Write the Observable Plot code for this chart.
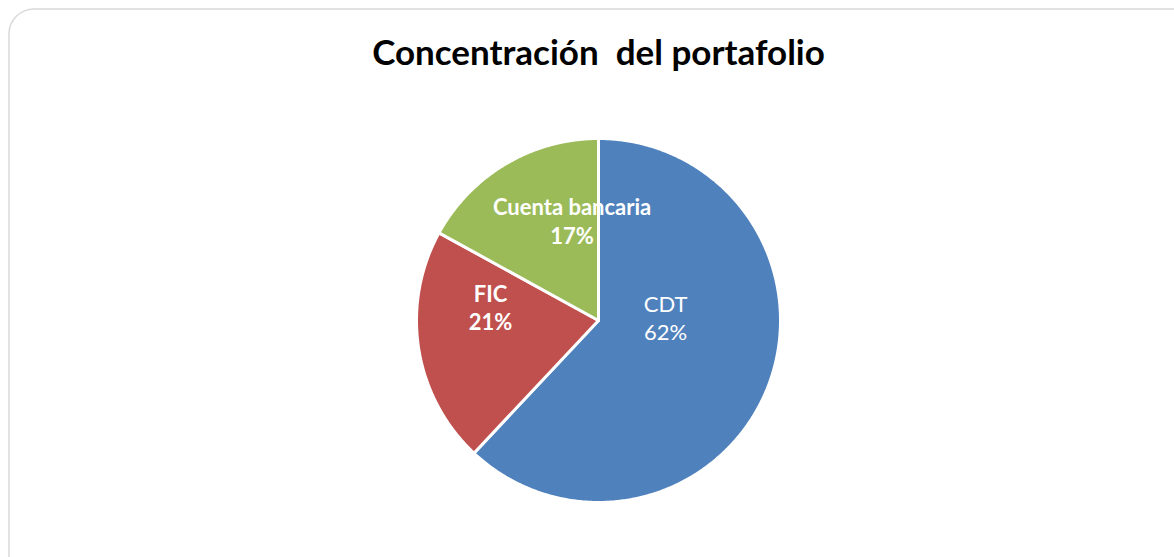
<!DOCTYPE html>
<html>
<head>
<meta charset="utf-8">
<script src="https://cdn.jsdelivr.net/npm/d3@7"></script>
<script src="https://cdn.jsdelivr.net/npm/@observablehq/plot@0.6"></script>
<style>
  html, body { margin: 0; padding: 0; background: #fff; }
  #chart svg { display: block; }
</style>
</head>
<body>
<div id="chart"></div>
<script>
// ---- data ----
const categories = ["CDT", "FIC", "Cuenta bancaria"];
const shares = [62, 21, 17];
const colors = ["#4F81BD", "#C0504D", "#9BBB59"];
const labelBold = [false, true, true];
const title = "Concentración  del portafolio";

// ---- layout ----
const W = 1174, H = 557;
const cx = 598, cy = 320, R = 182;
// label placement: [angle in degrees clockwise from top, distance in radius units]
const labelLayout = [[87.0, 0.369], [277.1, 0.598], [345.2, 0.569]];

const pie = d3.pie().sort(null).value(d => d)(shares);

const polys = [];
pie.forEach((p, i) => {
  const name = categories[i];
  polys.push({name, x: cx, y: cy});
  const n = Math.max(2, Math.ceil((p.endAngle - p.startAngle) / (Math.PI / 360)));
  for (let k = 0; k <= n; k++) {
    const a = p.startAngle + (p.endAngle - p.startAngle) * k / n;
    polys.push({name, x: cx + R * Math.sin(a), y: cy - R * Math.cos(a)});
  }
});

const labels = categories.map((c, i) => {
  const [deg, f] = labelLayout[i];
  const a = deg * Math.PI / 180;
  return {
    text: `${c}\n${shares[i]}%`,
    bold: labelBold[i],
    x: cx + f * R * Math.sin(a),
    y: cy - f * R * Math.cos(a)
  };
});

const chart = Plot.plot({
  width: W,
  height: H,
  margin: 0,
  x: {type: "identity", axis: null},
  y: {type: "identity", axis: null},
  color: {domain: categories, range: colors},
  marks: [
    Plot.frame({
      stroke: "#d9d9d9", strokeWidth: 1.5, rx: 25,
      insetLeft: 8.5, insetTop: 8.5, insetRight: -30, insetBottom: -30
    }),
    Plot.line(polys, {
      x: "x", y: "y", z: "name", fill: "name",
      stroke: "white", strokeWidth: 3, strokeLinejoin: "round",
      curve: "linear-closed"
    }),
    Plot.text([title], {
      frameAnchor: "top", dx: 11, dy: 40, text: d => d,
      fontFamily: "Lato", fontWeight: "bold", fontSize: 35, fill: "#000"
    }),
    Plot.text(labels.filter(d => d.bold), {
      x: "x", y: "y", text: "text", fill: "white",
      fontFamily: "Lato", fontWeight: "bold", fontSize: 22, lineHeight: 1.3
    }),
    Plot.text(labels.filter(d => !d.bold), {
      x: "x", y: "y", text: "text", fill: "white",
      fontFamily: "Lato", fontWeight: "normal", fontSize: 22, lineHeight: 1.3
    })
  ]
});
document.getElementById("chart").append(chart);
</script>
</body>
</html>
